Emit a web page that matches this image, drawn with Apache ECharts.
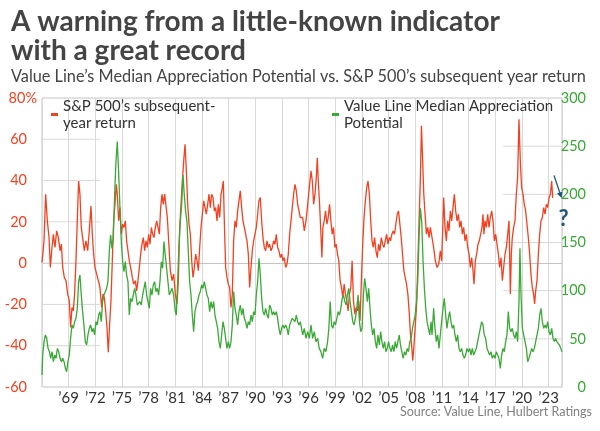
<!DOCTYPE html>
<html><head><meta charset="utf-8">
<script src="https://cdn.jsdelivr.net/npm/echarts/dist/echarts.min.js"></script>
<style>html,body{margin:0;padding:0;background:#fff}#c{width:600px;height:431px}</style>
</head><body><div id="c"></div>
<script>
const titleText = 'A warning from a little-known indicator\nwith a great record';
const subtitleText = 'Value Line\u2019s Median Appreciation Potential vs. S&P 500\u2019s subsequent year return';
const sourceText = 'Source: Value Line, Hulbert Ratings';
const spName = 'S&P 500\u2019s subsequent-year return';
const vlName = 'Value Line Median Appreciation Potential';
const spLegend = 'S&P 500\u2019s subsequent-\nyear return';
const vlLegend = 'Value Line Median Appreciation\nPotential';

const BASE_YEAR = 1969;
const xMinYear = 1966.3, xMaxYear = 2024.8, xStepYears = 3;
const leftMin = -60, leftMax = 80, leftStep = 20;
const rightMin = 0, rightMax = 300, rightStep = 50;
const leftGridVals = [-40, -20, 0, 20, 40, 60];
const rightGridVals = [50, 100, 150, 200, 250];
const leftGridEndYear = 1972.8;
const rightGridStartYear = 2018.2;

const spYears = [
1966.30,1966.53,1966.71,1966.90,1967.09,1967.24,1967.39,1967.58,1967.76,1967.95,
1968.14,1968.33,1968.48,1968.63,1968.81,1969.00,1969.19,1969.37,1969.52,1969.67,
1969.82,1969.97,1970.12,1970.27,1970.42,1970.57,1970.72,1970.87,1971.06,1971.25,
1971.44,1971.62,1971.81,1971.96,1972.11,1972.26,1972.45,1972.64,1972.82,1973.01,
1973.16,1973.31,1973.46,1973.61,1973.76,1973.91,1974.06,1974.21,1974.36,1974.51,
1974.66,1974.77,1974.92,1975.07,1975.22,1975.37,1975.52,1975.67,1975.82,1975.97,
1976.12,1976.27,1976.46,1976.61,1976.80,1976.95,1977.10,1977.25,1977.40,1977.55,
1977.70,1977.85,1978.00,1978.15,1978.30,1978.45,1978.60,1978.75,1978.90,1979.05,
1979.20,1979.35,1979.50,1979.65,1979.80,1979.95,1980.10,1980.25,1980.40,1980.55,
1980.74,1980.93,1981.11,1981.30,1981.49,1981.64,1981.79,1981.94,1982.09,1982.24,
1982.39,1982.54,1982.69,1982.84,1982.99,1983.14,1983.29,1983.44,1983.59,1983.74,
1983.89,1984.04,1984.19,1984.34,1984.49,1984.64,1984.79,1984.94,1985.09,1985.24,
1985.39,1985.54,1985.69,1985.84,1985.99,1986.14,1986.29,1986.44,1986.59,1986.70,
1986.81,1986.96,1987.11,1987.26,1987.41,1987.56,1987.71,1987.86,1988.01,1988.16,
1988.31,1988.46,1988.61,1988.76,1988.91,1989.06,1989.21,1989.36,1989.51,1989.66,
1989.81,1989.96,1990.11,1990.26,1990.41,1990.56,1990.71,1990.86,1991.01,1991.16,
1991.31,1991.46,1991.61,1991.76,1991.91,1992.06,1992.21,1992.36,1992.51,1992.66,
1992.81,1992.96,1993.11,1993.26,1993.41,1993.56,1993.71,1993.86,1994.01,1994.16,
1994.31,1994.46,1994.61,1994.76,1994.91,1995.06,1995.21,1995.36,
1995.63,1995.81,1996.00,1996.19,1996.37,1996.56,1996.71,1996.86,1997.01,1997.16,
1997.27,1997.38,1997.53,1997.68,1997.79,1997.90,1998.05,1998.20,1998.35,1998.50,
1998.65,1998.80,1998.95,1999.10,1999.25,1999.40,1999.54,1999.69,1999.84,1999.99,
2000.14,2000.29,2000.44,2000.59,2000.74,2000.89,2001.04,2001.19,2001.34,2001.49,
2001.63,2001.78,2001.93,2002.08,2002.23,2002.38,2002.53,2002.68,2002.83,2002.98,
2003.13,2003.28,2003.43,2003.57,2003.72,2003.87,2004.02,2004.17,2004.32,2004.47,
2004.62,2004.77,2004.92,2005.07,2005.22,2005.37,2005.51,2005.66,2005.81,2005.96,
2006.11,2006.26,2006.41,2006.56,2006.71,2006.86,2007.01,2007.16,2007.31,2007.46,
2007.60,2007.75,2007.90,2008.01,2008.13,2008.28,2008.43,2008.57,2008.72,2008.87,
2008.99,2009.10,2009.25,2009.40,2009.54,2009.69,2009.84,2009.99,
2010.18,2010.36,2010.55,2010.74,2010.93,2011.11,2011.26,2011.41,2011.49,2011.64,
2011.79,2011.94,2012.09,2012.24,2012.39,2012.54,2012.69,2012.84,2012.99,2013.14,
2013.29,2013.44,2013.59,2013.74,2013.89,2014.04,2014.19,2014.34,2014.49,2014.64,
2014.79,2014.90,2015.05,2015.20,2015.35,2015.50,2015.65,2015.80,2015.91,2016.02,
2016.14,2016.29,2016.44,2016.59,2016.74,2016.89,2017.04,2017.19,2017.34,2017.49,
2017.64,2017.79,2017.94,2018.09,2018.24,2018.39,2018.54,2018.69,2018.84,2018.99,
2019.10,2019.21,2019.36,2019.51,2019.66,2019.81,2019.96,2020.11,2020.26,2020.41,
2020.56,2020.71,2020.86,2021.01,2021.16,2021.31,2021.46,2021.61,2021.72,2021.84,
2021.99,2022.14,2022.29,2022.44,2022.59,2022.74,2022.89,2023.04,2023.19,2023.34,
2023.49,2023.64,2023.75
];
const spReturn = [
0.3,10.8,33.4,20.5,12.4,-2.1,6.0,14.0,7.6,15.6,
12.4,6.0,9.2,-2.1,-6.9,-8.5,-15.0,-18.2,-31.1,-21.5,
-23.1,-15.0,1.1,20.5,39.8,33.4,17.3,12.4,6.0,10.8,
6.0,15.6,27.7,14.0,4.4,-2.1,-5.3,-8.5,-11.8,-21.5,
-15.0,-16.6,-23.1,-31.1,-43.2,-29.5,-18.2,1.1,20.5,28.5,
38.2,33.4,20.5,26.9,14.0,18.9,17.3,20.5,10.8,6.0,
1.1,-2.1,-6.9,-10.2,-8.5,-13.4,-8.5,-2.1,4.4,9.2,
12.4,6.0,10.8,7.6,14.0,9.2,17.3,14.0,12.4,17.3,
20.5,17.3,14.0,26.9,33.4,28.5,33.4,34.2,22.1,10.8,
-3.7,-8.5,-5.3,-15.0,-19.8,-8.5,17.3,28.5,39.8,49.5,
57.6,44.7,28.5,18.9,14.0,1.1,-6.9,-2.1,4.4,1.1,
-3.7,7.6,17.3,23.7,30.2,26.9,23.7,28.5,33.4,26.9,
33.4,31.8,25.3,26.9,20.5,28.5,22.1,33.4,36.6,39.8,
20.5,-2.1,-6.9,-10.2,-11.8,-21.5,-15.0,10.8,20.5,17.3,
25.3,30.2,35.0,26.9,20.5,17.3,14.0,10.8,4.4,-11.8,
-2.1,6.0,10.8,14.0,17.3,23.7,30.2,31.8,20.5,12.4,
7.6,6.0,10.8,7.6,9.2,6.0,7.6,10.8,9.2,14.0,
7.6,6.0,2.7,4.4,1.1,2.7,-2.1,-0.5,4.4,14.0,
20.5,26.9,33.4,38.2,35.0,28.5,25.3,22.1,
22.1,15.6,20.5,28.5,36.6,44.7,39.8,28.5,33.4,41.5,
51.1,39.8,28.5,14.0,2.7,17.3,20.5,25.3,18.9,22.1,
28.5,20.5,14.0,17.3,7.6,9.2,4.4,1.1,-8.5,-11.8,
-16.6,-10.2,-15.0,-18.2,-23.1,-15.0,-11.8,1.1,-18.2,-24.7,
-21.5,-23.1,-18.2,-27.9,-8.5,9.2,22.1,30.2,36.6,39.8,
33.4,20.5,10.8,7.6,12.4,6.0,2.7,9.2,6.0,12.4,
9.2,7.6,10.8,14.0,9.2,12.4,10.8,14.0,15.6,14.0,
18.9,23.7,25.3,18.9,12.4,4.4,-3.7,-6.9,-10.2,-15.0,
-23.1,-34.4,-40.8,-47.3,-40.8,-31.1,-21.5,-2.1,20.5,41.5,
66.5,52.7,33.4,23.7,14.0,17.3,12.4,17.3,
17.3,7.6,1.1,-2.1,-0.5,6.0,1.1,20.5,31.8,17.3,
10.8,20.5,15.6,25.3,20.5,26.9,33.4,25.3,20.5,23.7,
17.3,20.5,14.0,17.3,10.8,14.0,7.6,4.4,-2.1,2.7,
-3.7,-10.2,1.1,4.4,9.2,10.8,14.0,17.3,23.7,14.0,
20.5,17.3,23.7,17.3,22.1,25.3,20.5,10.8,14.0,9.2,
4.4,-2.1,2.7,-8.5,-2.1,4.4,7.6,14.0,20.5,-15.0,
4.4,12.4,17.3,20.5,33.4,41.5,69.7,49.5,36.6,33.4,
28.5,25.3,18.9,12.4,4.4,-5.3,-11.8,-15.0,-19.8,-13.4,
-8.5,4.4,14.0,20.5,22.1,26.9,23.7,28.5,26.9,31.6,
33.4,39.8,31.6
];

const vlYears = [
1966.30,1966.38,1966.53,1966.68,1966.83,1966.98,1967.13,1967.28,1967.43,1967.58,
1967.73,1967.88,1968.03,1968.18,1968.33,1968.48,1968.63,1968.78,1968.93,1969.07,
1969.22,1969.37,1969.52,1969.67,1969.82,1969.97,1970.12,1970.27,1970.42,1970.57,
1970.72,1970.87,1971.02,1971.17,1971.32,1971.47,1971.62,1971.77,1971.92,1972.07,
1972.22,1972.37,1972.52,1972.67,1972.82,1972.97,1973.12,1973.27,1973.42,1973.57,
1973.72,1973.87,1974.02,1974.17,1974.32,1974.47,1974.62,1974.77,1974.92,1975.07,
1975.22,1975.37,1975.52,1975.67,1975.82,1975.97,1976.12,1976.27,1976.42,1976.57,
1976.72,1976.87,1977.02,1977.17,1977.32,1977.47,1977.62,1977.77,1977.92,1978.07,
1978.22,1978.37,1978.52,1978.67,1978.82,1978.97,1979.12,1979.27,1979.42,1979.57,
1979.72,1979.87,1980.02,1980.17,1980.32,1980.47,1980.62,
1980.74,1980.93,1981.11,1981.30,1981.41,1981.56,1981.71,1981.86,1982.01,1982.16,
1982.31,1982.46,1982.61,1982.76,1982.91,1983.06,1983.21,1983.36,1983.51,1983.66,
1983.81,1983.96,1984.11,1984.26,1984.41,1984.56,1984.71,1984.86,1985.01,1985.16,
1985.31,1985.46,1985.61,1985.76,1985.91,1986.06,1986.21,1986.36,1986.51,1986.66,
1986.81,1986.96,1987.11,1987.26,1987.41,1987.56,1987.71,1987.86,1988.01,1988.16,
1988.31,1988.46,1988.61,1988.76,1988.91,1989.06,1989.21,1989.36,1989.51,1989.66,
1989.81,1989.96,1990.11,1990.26,1990.41,1990.56,1990.71,1990.86,1991.01,1991.16,
1991.31,1991.46,1991.61,1991.76,1991.91,1992.06,1992.21,1992.36,1992.51,1992.66,
1992.81,1992.96,1993.11,1993.26,1993.41,1993.56,1993.71,1993.86,1994.01,1994.16,
1994.31,1994.46,1994.61,1994.76,1994.91,1995.06,1995.21,1995.36,
1995.63,1995.81,1996.00,1996.19,1996.37,1996.56,1996.75,1996.93,1997.12,1997.31,
1997.49,1997.68,1997.87,1998.05,1998.24,1998.43,1998.57,1998.72,1998.87,1999.02,
1999.17,1999.32,1999.47,1999.62,1999.77,1999.92,2000.07,2000.22,2000.37,2000.51,
2000.66,2000.81,2000.96,2001.11,2001.26,2001.41,2001.56,2001.71,2001.86,2002.01,
2002.16,2002.31,2002.46,2002.60,2002.75,2002.90,2003.05,2003.20,2003.35,2003.50,
2003.65,2003.80,2003.95,2004.10,2004.25,2004.40,2004.54,2004.69,2004.84,2004.99,
2005.14,2005.29,2005.44,2005.59,2005.74,2005.89,2006.04,2006.19,2006.34,2006.49,
2006.63,2006.78,2006.93,2007.08,2007.23,2007.38,2007.53,2007.68,2007.83,2007.98,
2008.13,2008.28,2008.43,2008.57,2008.72,2008.87,2009.02,2009.17,2009.32,2009.47,
2009.62,2009.77,2009.92,2010.07,
2010.18,2010.36,2010.51,2010.66,2010.81,2010.96,2011.11,2011.26,2011.41,2011.56,
2011.71,2011.86,2012.01,2012.16,2012.31,2012.46,2012.61,2012.76,2012.91,2013.06,
2013.21,2013.36,2013.51,2013.66,2013.81,2013.96,2014.11,2014.26,2014.41,2014.56,
2014.71,2014.86,2015.01,2015.16,2015.31,2015.46,2015.61,2015.76,2015.91,2016.06,
2016.21,2016.36,2016.51,2016.66,2016.81,2016.96,2017.11,2017.26,2017.41,2017.56,
2017.71,2017.86,2018.01,2018.16,2018.31,2018.46,2018.61,2018.76,2018.91,2019.06,
2019.21,2019.36,2019.51,2019.66,2019.81,2019.96,2020.07,2020.19,2020.34,2020.49,
2020.64,2020.79,2020.94,2021.09,2021.24,2021.39,2021.54,2021.69,2021.84,2021.99,
2022.14,2022.29,2022.44,2022.59,2022.74,2022.89,2023.04,2023.19,2023.34,2023.49,
2023.64,2023.79,2023.94,2024.09,2024.21,2024.36,2024.51,2024.66,2024.80
];
const vlMAP = [
12.5,33.2,47.1,54.0,50.5,40.1,36.7,29.8,36.7,26.3,
33.2,29.8,40.1,36.7,29.8,26.3,29.8,26.3,19.4,15.9,
26.3,33.2,50.5,64.4,60.9,67.8,71.3,81.7,109.3,116.3,
95.5,78.2,64.4,47.1,43.6,54.0,60.9,64.4,57.4,60.9,
54.0,67.8,64.4,74.7,78.2,67.8,88.6,95.5,99.0,102.4,
109.3,140.5,157.8,143.9,154.3,199.3,233.9,254.7,223.5,185.5,
150.9,130.1,119.7,130.1,116.3,109.3,74.7,92.0,88.6,95.5,
102.4,95.5,85.1,85.1,88.6,85.1,95.5,102.4,109.3,95.5,
88.6,81.7,102.4,95.5,105.9,109.3,99.0,102.4,95.5,109.3,
130.1,123.2,150.9,137.0,123.2,109.3,95.5,
95.5,102.4,95.5,78.2,74.7,109.3,147.4,171.6,188.9,220.1,
199.3,182.0,171.6,140.5,109.3,95.5,74.7,57.4,78.2,85.1,
88.6,95.5,99.0,105.9,102.4,109.3,102.4,95.5,92.0,78.2,
88.6,81.7,88.6,74.7,67.8,60.9,47.1,40.1,54.0,67.8,
60.9,50.5,40.1,47.1,40.1,47.1,64.4,99.0,81.7,74.7,
64.4,78.2,85.1,74.7,81.7,71.3,67.8,60.9,67.8,64.4,
74.7,67.8,78.2,74.7,95.5,109.3,133.6,116.3,92.0,78.2,
74.7,81.7,74.7,71.3,85.1,81.7,74.7,78.2,74.7,78.2,
71.3,60.9,54.0,60.9,64.4,60.9,64.4,60.9,54.0,64.4,
67.8,71.3,71.3,67.8,74.7,67.8,64.4,67.8,
54.0,60.9,50.5,57.4,50.5,64.4,50.5,57.4,47.1,50.5,
40.1,36.7,29.8,40.1,36.7,47.1,60.9,88.6,64.4,60.9,
67.8,64.4,71.3,78.2,74.7,81.7,92.0,95.5,88.6,85.1,
95.5,102.4,88.6,78.2,67.8,64.4,71.3,81.7,95.5,67.8,
57.4,60.9,95.5,112.8,102.4,88.6,102.4,81.7,64.4,54.0,
60.9,47.1,40.1,54.0,43.6,57.4,47.1,40.1,47.1,36.7,
40.1,47.1,40.1,36.7,43.6,36.7,47.1,40.1,47.1,54.0,
43.6,36.7,29.8,36.7,33.2,40.1,36.7,47.1,50.5,60.9,
67.8,74.7,88.6,109.3,157.8,185.5,171.6,130.1,102.4,81.7,
67.8,60.9,54.0,67.8,
54.0,81.7,60.9,47.1,54.0,40.1,54.0,67.8,81.7,92.0,
74.7,60.9,71.3,78.2,67.8,60.9,64.4,54.0,47.1,54.0,
40.1,36.7,40.1,33.2,29.8,33.2,40.1,36.7,40.1,33.2,
40.1,33.2,36.7,40.1,47.1,54.0,60.9,67.8,64.4,54.0,
50.5,40.1,36.7,33.2,36.7,29.8,33.2,29.8,36.7,33.2,
29.8,19.4,33.2,40.1,36.7,47.1,54.0,78.2,60.9,57.4,
60.9,54.0,50.5,57.4,47.1,88.6,143.9,95.5,60.9,54.0,
47.1,40.1,26.3,29.8,29.8,40.1,36.7,40.1,47.1,54.0,
60.9,74.7,81.7,67.8,60.9,64.4,60.9,67.8,57.4,54.0,
60.9,50.5,47.1,50.5,47.1,47.1,43.6,40.1,36.7
];

// annotation anchor points (year, left-axis value)
const arrowStart = [2023.9, 42.5];
const arrowEnd = [2024.76, 31.5];
const questionPos = [2024.98, 21.5];

const RED = '#f5401f', GREEN = '#3aa935', GRID = '#d9d9d9', FRAME = '#c4c4c4', NAVY = '#1d5776';
const FONT = 'Lato';

const chart = echarts.init(document.getElementById('c'), null, {renderer: 'canvas'});

const toX = y => +(y - BASE_YEAR).toFixed(4);
const spData = spYears.map((y, i) => [toX(y), spReturn[i]]);
const vlData = vlYears.map((y, i) => [toX(y), vlMAP[i]]);

const gridSeries = [];
leftGridVals.forEach(v => gridSeries.push({
  type: 'line', yAxisIndex: 0, data: [[toX(xMinYear), v], [toX(leftGridEndYear), v]],
  symbol: 'none', silent: true, z: 1, animation: false,
  lineStyle: {color: GRID, width: 1}
}));
rightGridVals.forEach(v => gridSeries.push({
  type: 'line', yAxisIndex: 1, data: [[toX(rightGridStartYear), v], [toX(xMaxYear), v]],
  symbol: 'none', silent: true, z: 1, animation: false,
  lineStyle: {color: GRID, width: 1}
}));

const legendCommon = {
  orient: 'horizontal', icon: 'rect', itemWidth: 7, itemHeight: 3, padding: 0,
  selectedMode: false,
  textStyle: {fontFamily: FONT, fontSize: 15, color: '#333', lineHeight: 17, padding: [17, 0, 0, 0]}
};

const option = {
  animation: false,
  backgroundColor: '#fff',
  title: [
    {text: titleText, left: 11, top: 7, padding: 0,
     textStyle: {fontFamily: FONT, fontWeight: 'bold', fontSize: 28, lineHeight: 29, color: '#444'}},
    {text: subtitleText, left: 11, top: 69, padding: 0,
     textStyle: {fontFamily: FONT, fontWeight: 'normal', fontSize: 16.3, color: '#444'}},
    {text: sourceText, right: 8, top: 405, padding: 0,
     textStyle: {fontFamily: FONT, fontWeight: 'normal', fontSize: 12.5, color: '#808080'}}
  ],
  legend: [
    Object.assign({}, legendCommon, {data: [spName], left: 51, top: 89, formatter: () => spLegend}),
    Object.assign({}, legendCommon, {data: [vlName], left: 332, top: 89, formatter: () => vlLegend})
  ],
  grid: {left: 42, right: 38, top: 98, bottom: 44, show: true, borderColor: FRAME, borderWidth: 1, backgroundColor: 'transparent'},
  xAxis: {
    type: 'value', min: toX(xMinYear), max: toX(xMaxYear), interval: xStepYears,
    axisLine: {show: true, lineStyle: {color: FRAME}},
    axisTick: {show: false},
    splitLine: {show: true, lineStyle: {color: GRID, width: 1}},
    axisLabel: {
      showMinLabel: false, showMaxLabel: false,
      fontFamily: FONT, fontSize: 15, color: '#333', margin: 4,
      formatter: v => '\u2019' + String((Math.round(v) + BASE_YEAR) % 100).padStart(2, '0')
    }
  },
  yAxis: [
    {type: 'value', position: 'left', min: leftMin, max: leftMax, interval: leftStep,
     axisLine: {show: false}, axisTick: {show: false}, splitLine: {show: false},
     axisLabel: {margin: 5, align: 'right', fontFamily: FONT, fontSize: 14.5, color: RED,
       formatter: v => v === leftMax ? '{a|' + v + '%}' : '{b|' + v + '}',
       rich: {a: {fontFamily: FONT, fontSize: 14.5, color: RED},
              b: {fontFamily: FONT, fontSize: 14.5, color: RED, padding: [0, 10, 0, 0]}}}},
    {type: 'value', position: 'right', min: rightMin, max: rightMax, interval: rightStep,
     axisLine: {show: false}, axisTick: {show: false}, splitLine: {show: false},
     axisLabel: {margin: 24, align: 'right', fontFamily: FONT, fontSize: 14.5, color: GREEN}}
  ],
  series: gridSeries.concat([
    {name: spName, type: 'line', yAxisIndex: 0, data: spData, showSymbol: false, symbol: 'none',
     color: RED, lineStyle: {color: RED, width: 1.3}, z: 3},
    {name: vlName, type: 'line', yAxisIndex: 1, data: vlData, showSymbol: false, symbol: 'none',
     color: GREEN, lineStyle: {color: GREEN, width: 1.3}, z: 4}
  ])
};
chart.setOption(option);

// annotation placed through the chart's own coordinate conversion
const px = p => chart.convertToPixel({xAxisIndex: 0, yAxisIndex: 0}, [toX(p[0]), p[1]]);
const a = px(arrowStart), b = px(arrowEnd), q = px(questionPos);
const dx = b[0] - a[0], dy = b[1] - a[1], len = Math.hypot(dx, dy);
const ux = dx / len, uy = dy / len, nx = -uy, ny = ux;
const headL = 6, headW = 3;
chart.setOption({
  graphic: [
    {type: 'line', shape: {x1: a[0], y1: a[1], x2: b[0] - ux * 2, y2: b[1] - uy * 2},
     style: {stroke: NAVY, lineWidth: 1.3}, silent: true, z: 10},
    {type: 'polygon', shape: {points: [[b[0], b[1]],
       [b[0] - ux * headL + nx * headW, b[1] - uy * headL + ny * headW],
       [b[0] - ux * headL - nx * headW, b[1] - uy * headL - ny * headW]]},
     style: {fill: NAVY}, silent: true, z: 10},
    {type: 'text', x: q[0], y: q[1], silent: true, z: 10,
     style: {text: '?', fill: NAVY, font: 'bold 22px Lato', align: 'center', verticalAlign: 'middle'}}
  ]
});
</script>
</body></html>
